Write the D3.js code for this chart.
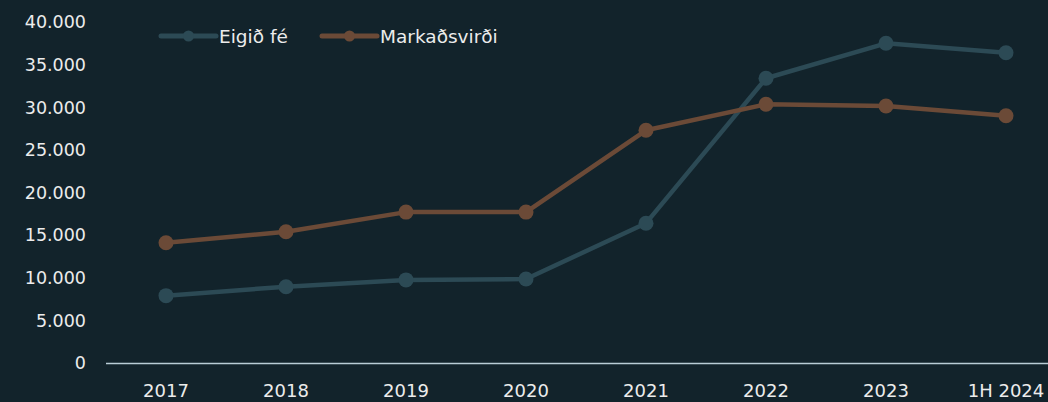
<!DOCTYPE html>
<html lang="is">
<head>
  <meta charset="UTF-8">
  <title>Eigið fé og markaðsvirði</title>
  <style>
    html, body { margin: 0; padding: 0; background: #12232b; }
    svg { display: block; }
    text { font-family: "DejaVu Sans", Verdana, sans-serif; }
  </style>
  <script src="https://cdn.jsdelivr.net/npm/d3@7"></script>
</head>
<body>
  <script>
    var years = ["2017", "2018", "2019", "2020", "2021", "2022", "2023", "1H 2024"];
    var eigidFe = [7900, 8950, 9750, 9850, 16400, 33400, 37500, 36400];
    var markadsvirdi = [14100, 15400, 17700, 17700, 27300, 30350, 30150, 29000];
    var yTicks = [0, 5000, 10000, 15000, 20000, 25000, 30000, 35000, 40000];

    var series = [
      { name: "Eigið fé", values: eigidFe, color: "#2c4a55" },
      { name: "Markaðsvirði", values: markadsvirdi, color: "#6b4a37" }
    ];

    var w = 1048, h = 402;
    var svg = d3.select("body").append("svg").attr("width", w).attr("height", h);

    var x = d3.scalePoint().domain(years).range([166, 1006]);
    var y = d3.scaleLinear().domain([0, 40000]).range([363, 22]);

    var fmt = function(d) { return d3.format(",")(d).replace(/,/g, "."); };

    // y tick labels
    svg.append("g").selectAll("text")
      .data(yTicks)
      .enter().append("text")
      .attr("x", 86)
      .attr("y", function(d) { return y(d); })
      .attr("dy", "0.36em")
      .attr("text-anchor", "end")
      .attr("fill", "#ececec")
      .style("font-size", "17.5px")
      .text(fmt);

    // x axis line
    svg.append("line")
      .attr("x1", 106).attr("x2", w)
      .attr("y1", y(0) + 0.5).attr("y2", y(0) + 0.5)
      .attr("stroke", "#b9cdd6").attr("stroke-width", 1.6);

    svg.append("g").selectAll("text")
      .data(years)
      .enter().append("text")
      .attr("x", function(d) { return x(d); })
      .attr("y", 397)
      .attr("text-anchor", "middle")
      .attr("fill", "#ececec")
      .style("font-size", "18px")
      .text(function(d) { return d; });

    var line = d3.line()
      .x(function(d, i) { return x(years[i]); })
      .y(function(d) { return y(d); });

    series.forEach(function(s) {
      svg.append("path")
        .datum(s.values)
        .attr("d", line)
        .attr("fill", "none")
        .attr("stroke", s.color)
        .attr("stroke-width", 4.5)
        .attr("stroke-linejoin", "round");

      svg.append("g").selectAll("circle")
        .data(s.values)
        .enter().append("circle")
        .attr("cx", function(d, i) { return x(years[i]); })
        .attr("cy", function(d) { return y(d); })
        .attr("r", 7.5)
        .attr("fill", s.color);
    });

    // legend
    var legendX = [161, 322];
    series.forEach(function(s, i) {
      var g = svg.append("g").attr("transform", "translate(" + legendX[i] + ",36)");
      g.append("line")
        .attr("x1", 0).attr("x2", 55)
        .attr("stroke", s.color).attr("stroke-width", 5)
        .attr("stroke-linecap", "round");
      g.append("circle").attr("cx", 27.5).attr("r", 5.5).attr("fill", s.color);
      g.append("text")
        .attr("x", 58).attr("dy", "0.36em")
        .attr("fill", "#ececec")
        .style("font-size", "18.5px")
        .text(s.name);
    });
  </script>
</body>
</html>
